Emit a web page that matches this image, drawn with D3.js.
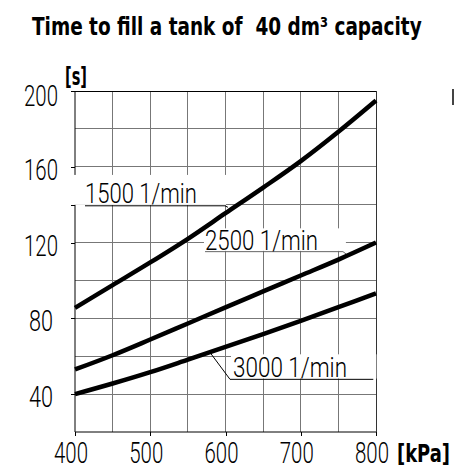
<!DOCTYPE html>
<html>
<head>
<meta charset="utf-8">
<script src="https://cdn.jsdelivr.net/npm/d3@7"></script>
<style>
  html, body { margin: 0; padding: 0; background: #fff; }
  svg { display: block; }
  text { font-family: Roboto, "DejaVu Sans Condensed", sans-serif; font-weight: 300; fill: #000; }
  .bold { font-family: "DejaVu Sans Condensed", Roboto, sans-serif; font-weight: bold; }
</style>
</head>
<body>
<div id="chart"></div>
<script>
// pressure [kPa]
const pressure = [400, 450, 500, 550, 600, 650, 700, 750, 800];
// fill time [s] per flow rate
const flow1500 = [85.5, 97.5, 109.5, 122, 135.5, 149, 163, 178.5, 195];
const flow2500 = [53, 60.5, 68.8, 77.3, 85.8, 94.2, 102.6, 111, 120];
const flow3000 = [40, 45.6, 51.6, 58.2, 64.9, 71.7, 78.7, 85.9, 93.2];
const seriesNames = ['1500 1/min', '2500 1/min', '3000 1/min'];

const xTicks = [400, 500, 600, 700, 800];
const yTicks = [40, 80, 120, 160, 200];

const width = 454, height = 471;

// squeeze a text horizontally to a given width (font in the picture is condensed)
function squeeze(sel, w) {
  sel.each(function(d) {
    const t = d3.select(this);
    const tx = +t.attr('x') || 0, ty = +t.attr('y') || 0;
    const n = this.getComputedTextLength();
    const target = typeof w === 'function' ? w(d) : w;
    t.attr('x', 0).attr('y', 0)
      .attr('transform', `translate(${tx},${ty}) scale(${n ? target / n : 1},1)`);
  });
}

const svg = d3.select('#chart')
  .append('svg')
    .attr('width', width)
    .attr('height', height);

const x = d3.scaleLinear().domain([400, 800]).range([75, 376]);
const y = d3.scaleLinear().domain([20, 200]).range([432, 91]);

// title
svg.append('text')
  .attr('class', 'bold')
  .attr('x', 32).attr('y', 35)
  .attr('font-size', 25)
  .style('white-space', 'pre')
  .text('Time to fill a tank of  40 dm³ capacity')
  .call(squeeze, 390);

// grid
const grid = svg.append('g').attr('stroke', '#777').attr('stroke-width', 1).attr('shape-rendering', 'crispEdges');
grid.selectAll('.vg')
  .data(d3.range(450, 800, 50))
  .join('line')
    .attr('x1', d => x(d)).attr('x2', d => x(d))
    .attr('y1', y(200)).attr('y2', y(20));
grid.selectAll('.hg')
  .data(d3.range(40, 200, 20))
  .join('line')
    .attr('x1', x(400)).attr('x2', x(800))
    .attr('y1', d => y(d)).attr('y2', d => y(d));

// frame
const frame = svg.append('g').attr('stroke', '#000').attr('stroke-width', 1).attr('shape-rendering', 'crispEdges');
frame.append('line').attr('x1', x(400)).attr('x2', x(800)).attr('y1', y(200)).attr('y2', y(200));
frame.append('line').attr('x1', x(800)).attr('x2', x(800)).attr('y1', y(200)).attr('y2', y(20)).attr('stroke', '#333');

// axes
const xAxis = svg.append('g')
  .attr('transform', `translate(0, ${y(20)})`)
  .call(d3.axisBottom(x).tickValues(xTicks).tickSize(4).tickPadding(0).tickFormat(d3.format('d')));
xAxis.select('.domain').attr('stroke', '#000').attr('d', `M${x(400)},0H${x(800)}`);
xAxis.selectAll('.tick line').attr('stroke', '#000').attr('shape-rendering', 'crispEdges');
xAxis.selectAll('.tick text')
  .attr('font-family', null).attr('font-size', 29)
  .attr('dy', null).attr('y', 31).attr('x', -4.5)
  .call(squeeze, 34);

const yAxis = svg.append('g')
  .attr('transform', `translate(${x(400)}, 0)`)
  .call(d3.axisLeft(y).tickValues(yTicks.concat([140])).tickSize(4).tickFormat(d3.format('d')));
yAxis.select('.domain').attr('stroke', '#000').attr('d', `M0,${y(200)}V${y(20)}`);
yAxis.selectAll('.tick line').attr('stroke', '#000').attr('shape-rendering', 'crispEdges');
yAxis.selectAll('.tick text')
  .attr('font-family', null).attr('font-size', 29)
  .attr('dy', null).attr('y', d => d === 200 ? 14 : 12.5)
  .attr('x', 41 - x(400)).attr('text-anchor', 'middle')
  .text(d => d === 140 ? '' : d)
  .call(squeeze, d => d >= 100 ? 34 : 24);

// unit labels
svg.append('text')
  .attr('class', 'bold')
  .attr('x', 65).attr('y', 85)
  .attr('font-size', 24)
  .text('[s]')
  .call(squeeze, 22);
svg.append('text')
  .attr('class', 'bold')
  .attr('x', 397).attr('y', 462)
  .attr('font-size', 24)
  .text('[kPa]')
  .call(squeeze, 53);

// series labels, positions in data units
const labelSpots = [
  { text: seriesNames[0], tx: 413.3, ty: 140.7, len: 112,
    bg: [397, 600.7, 155.7, 139.9], ul: [413.3, 599.3, 139.4], lead: [603.3, 138.6], ulColor: '#000' },
  { text: seriesNames[1], tx: 572.8, ty: 116.1, len: 113,
    bg: [571.4, 760, 127.5, 115.6], ul: [572.8, 756.1, 115.2], lead: [760.5, 113.9], ulColor: '#666' },
  { text: seriesNames[2], tx: 610, ty: 49.2, len: 114,
    bg: [607.3, 800.5, 61, 48.2], ul: [796.4, 606, 47.8], lead: [579.4, 62], ulColor: '#000' }
];

const labels = svg.append('g');
labelSpots.forEach(s => {
  labels.append('rect')
    .attr('x', x(s.bg[0])).attr('width', x(s.bg[1]) - x(s.bg[0]))
    .attr('y', y(s.bg[2])).attr('height', y(s.bg[3]) - y(s.bg[2]))
    .attr('fill', '#fff');
  labels.append('path')
    .attr('d', d3.line()([[x(s.ul[0]), y(s.ul[2])], [x(s.ul[1]), y(s.ul[2])], [x(s.lead[0]), y(s.lead[1])]]))
    .attr('fill', 'none').attr('stroke', s.ulColor).attr('stroke-width', 1);
  labels.append('text')
    .attr('x', x(s.tx)).attr('y', y(s.ty))
    .attr('font-size', 28)
    .text(s.text)
    .call(squeeze, s.len);
});

// curves
const line = d3.line()
  .x((d, i) => x(pressure[i]))
  .y(d => y(d))
  .curve(d3.curveCatmullRom.alpha(0.5));

svg.append('g')
  .selectAll('path')
  .data([flow1500, flow2500, flow3000])
  .join('path')
    .attr('d', line)
    .attr('fill', 'none')
    .attr('stroke', '#000')
    .attr('stroke-width', 4.5);

// stray mark at right edge
svg.append('rect')
  .attr('x', 452).attr('y', 89).attr('width', 2).attr('height', 16)
  .attr('fill', '#444');
</script>
</body>
</html>
